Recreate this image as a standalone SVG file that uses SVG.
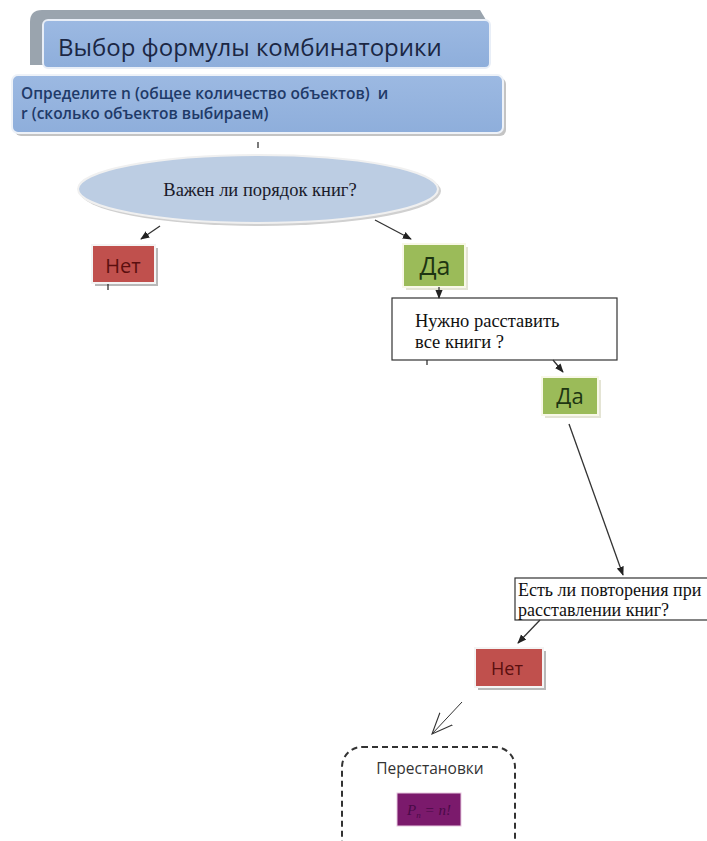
<svg xmlns="http://www.w3.org/2000/svg" width="707" height="841" viewBox="0 0 707 841">
<defs>
<style>
.sans{font-family:"Open Sans","Liberation Sans",sans-serif}
.serif{font-family:"Liberation Serif","DejaVu Serif",serif}
.conn{stroke:#333;stroke-width:1.3;fill:none}
.red{fill:#c0504d;stroke:#f4f4f4;stroke-width:2}
.green{fill:#9bbb59;stroke:#f8f8e8;stroke-width:2}
.shadow{fill:#b8b8b8}
.box{fill:#fff;stroke:#333;stroke-width:1.2}
</style>
<marker id="ah" viewBox="0 0 10 10" refX="9" refY="5" markerWidth="7" markerHeight="7" orient="auto-start-reverse">
<path d="M0,1 L10,5 L0,9 z" fill="#222"/>
</marker>
<marker id="open" viewBox="0 0 20 20" refX="19" refY="10" markerWidth="22" markerHeight="22" markerUnits="userSpaceOnUse" orient="auto">
<path d="M0,2 L19,10 L0,18" fill="none" stroke="#333" stroke-width="1"/>
</marker>
<linearGradient id="blueG" x1="0" y1="0" x2="0" y2="1">
<stop offset="0" stop-color="#9cb9e2"/>
<stop offset="1" stop-color="#8eaedb"/>
</linearGradient>
</defs>
<rect width="707" height="841" fill="#fff"/>

<g id="title">
<path d="M42,10 L480,10 L486,20 L486,65 L30,65 L30,22 Q30,10 42,10 z" fill="#9aa4ae"/>
<rect x="43" y="20" width="447" height="48" rx="5" fill="url(#blueG)" stroke="#e8eef7" stroke-width="2"/>
<text x="58" y="56" class="sans" font-size="24" fill="#1b2744">Выбор формулы комбинаторики</text>
</g>

<g id="define">
<rect x="15" y="78" width="491" height="58" rx="6" fill="#c4c4c4"/>
<rect x="12" y="75" width="491" height="58" rx="6" fill="url(#blueG)" stroke="#eef2f8" stroke-width="2"/>
<text class="sans" font-size="15.5" font-weight="600" fill="#1f3a68" xml:space="preserve"><tspan x="21" y="99">Определите n (общее количество объектов)  и</tspan><tspan x="21" y="119">r (сколько объектов выбираем)</tspan></text>
</g>

<g id="question1">
<ellipse cx="260" cy="191" rx="181" ry="35" fill="#d0d0d0"/>
<ellipse cx="258" cy="189" rx="180" ry="34" fill="#bccde3" stroke="#f0f0f0" stroke-width="2"/>
<text x="260" y="196" class="serif" font-size="18.5" fill="#1a1a2a" text-anchor="middle">Важен ли порядок книг?</text>
</g>

<g id="no1">
<rect x="95" y="248" width="63" height="38" class="shadow"/>
<rect x="92" y="245" width="63" height="38" class="red"/>
<text x="123" y="273" class="sans" font-size="20" fill="#5a0f0f" text-anchor="middle">Нет</text>
</g>

<g id="yes1">
<rect x="406" y="247" width="62" height="43" fill="#e4e4d4"/>
<rect x="403" y="244" width="62" height="43" class="green"/>
<text x="435" y="275" class="sans" font-size="25" fill="#1e3512" text-anchor="middle">Да</text>
</g>

<g id="question2">
<rect x="392" y="298" width="225" height="62" class="box"/>
<text class="serif" font-size="18.5" fill="#111"><tspan x="415" y="327">Нужно расставить</tspan><tspan x="415" y="348">все книги ?</tspan></text>
</g>

<g id="yes2">
<rect x="545" y="380" width="56" height="38" fill="#e4e4d4"/>
<rect x="542" y="377" width="56" height="38" class="green"/>
<text x="570" y="404" class="sans" font-size="22" fill="#1e3512" text-anchor="middle">Да</text>
</g>

<g id="question3">
<rect x="515" y="578" width="200" height="42" class="box"/>
<text class="serif" font-size="18" fill="#111"><tspan x="518" y="596">Есть ли повторения при</tspan><tspan x="518" y="616">расставлении книг?</tspan></text>
</g>

<g id="no2">
<rect x="478" y="651" width="68" height="39" class="shadow"/>
<rect x="475" y="648" width="68" height="39" class="red"/>
<text x="507" y="675" class="sans" font-size="18" fill="#5a0f0f" text-anchor="middle">Нет</text>
</g>

<g id="permutations">
<rect x="342" y="747" width="173" height="120" rx="20" fill="#fff" stroke="#333" stroke-width="2" stroke-dasharray="6,4"/>
<text x="430" y="774" class="sans" font-size="15.5" fill="#333" text-anchor="middle">Перестановки</text>
<rect x="397" y="793" width="64" height="33" fill="#7b1a6c" stroke="#e8c8e0" stroke-width="1"/>
<text x="429" y="815" class="serif" font-size="15" font-style="italic" fill="#4a0a48" text-anchor="middle">P<tspan font-size="9" dy="3">n</tspan><tspan dy="-3"> = n!</tspan></text>
</g>

<g id="connectors">
<line x1="258" y1="142" x2="258" y2="148" class="conn"/>
<line x1="160" y1="226" x2="141" y2="239" class="conn" marker-end="url(#ah)"/>
<line x1="375" y1="220" x2="411" y2="239" class="conn" marker-end="url(#ah)"/>
<line x1="439" y1="287" x2="439" y2="298" class="conn" marker-end="url(#ah)"/>
<line x1="108" y1="284" x2="108" y2="290" class="conn"/>
<line x1="427" y1="360" x2="427" y2="365" class="conn"/>
<line x1="553" y1="360" x2="563" y2="372" class="conn" marker-end="url(#ah)"/>
<line x1="569" y1="424" x2="623" y2="575" class="conn" marker-end="url(#ah)"/>
<line x1="540" y1="620" x2="518" y2="643" class="conn" marker-end="url(#ah)"/>
<line x1="462" y1="702" x2="432" y2="734" stroke="#333" stroke-width="1" marker-end="url(#open)"/>
</g>
</svg>
